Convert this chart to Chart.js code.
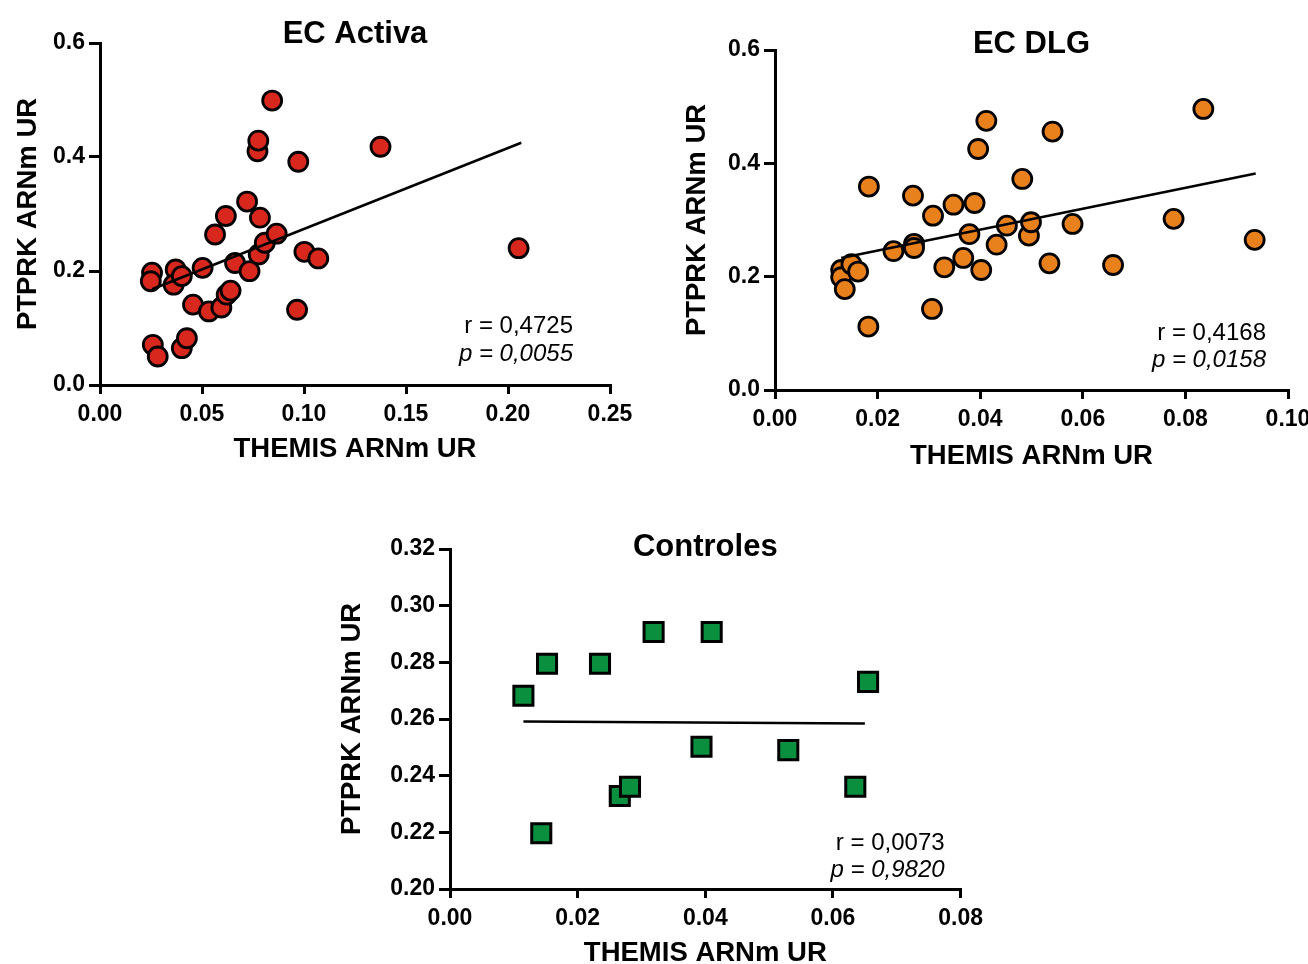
<!DOCTYPE html>
<html>
<head>
<meta charset="utf-8">
<script src="https://cdn.jsdelivr.net/npm/chart.js@4.4.0/dist/chart.umd.min.js"></script>
<style>
  html, body { margin: 0; padding: 0; background: #fff; width: 1308px; height: 964px; overflow: hidden; }
  canvas { position: absolute; }
</style>
</head>
<body>
<canvas id="c1" width="650" height="470" style="left:0px;top:0px"></canvas>
<canvas id="c2" width="680" height="480" style="left:660px;top:0px"></canvas>
<canvas id="c3" width="660" height="480" style="left:330px;top:500px"></canvas>
<script>
// EC Activa
const activaX = [0.0255, 0.0249, 0.0259, 0.0283, 0.0371, 0.0361, 0.0401, 0.0401, 0.0426, 0.0456, 0.0503,
  0.0534, 0.0595, 0.0621, 0.0640, 0.0564, 0.0617, 0.0662, 0.0721, 0.0733, 0.0784, 0.0772, 0.0776,
  0.0778, 0.0808, 0.0866, 0.0844, 0.0972, 0.0966, 0.1002, 0.1070, 0.1375, 0.2052];
const activaY = [0.197, 0.182, 0.0705, 0.050, 0.2026, 0.176, 0.191, 0.0646, 0.082, 0.141, 0.2055,
  0.129, 0.136, 0.1585, 0.1656, 0.264, 0.2965, 0.214, 0.3218, 0.1997, 0.2936, 0.410, 0.4287,
  0.229, 0.2496, 0.2654, 0.499, 0.3917, 0.132, 0.2337, 0.222, 0.418, 0.240];
const activaFitX = [0.0255, 0.2065];
const activaFitY = [0.168, 0.425];

// EC DLG
const dlgX = [0.0129, 0.0129, 0.0136, 0.0149, 0.0162, 0.0182, 0.0183, 0.0231, 0.0269, 0.0271, 0.0271,
  0.0306, 0.0308, 0.0330, 0.0348, 0.0367, 0.0379, 0.0389, 0.0396, 0.0402, 0.0412, 0.0432, 0.0452,
  0.0482, 0.0495, 0.0499, 0.0535, 0.0541, 0.0580, 0.0659, 0.0777, 0.0835, 0.0935];
const dlgY = [0.2118, 0.199, 0.178, 0.222, 0.209, 0.112, 0.359, 0.245, 0.343, 0.258, 0.2506,
  0.143, 0.3076, 0.2165, 0.327, 0.233, 0.275, 0.330, 0.4253, 0.2118, 0.475, 0.2565, 0.290,
  0.3724, 0.2724, 0.296, 0.2235, 0.456, 0.293, 0.2206, 0.302, 0.496, 0.265];
const dlgFitX = [0.0129, 0.0937];
const dlgFitY = [0.233, 0.382];

// Controles
const ctrlX = [0.0115, 0.0152, 0.0143, 0.0235, 0.0266, 0.0282, 0.0319, 0.0410, 0.0394, 0.0530, 0.0635, 0.0655];
const ctrlY = [0.2682, 0.2795, 0.2197, 0.2795, 0.2328, 0.2361, 0.2907, 0.2907, 0.2502, 0.2490, 0.2361, 0.2731];
const ctrlFitX = [0.0115, 0.0650];
const ctrlFitY = [0.2591, 0.2584];

// axes
const activaXTicks = [0, 0.05, 0.10, 0.15, 0.20, 0.25];
const activaXLabels = ['0.00', '0.05', '0.10', '0.15', '0.20', '0.25'];
const dlgXTicks = [0, 0.02, 0.04, 0.06, 0.08, 0.10];
const dlgXLabels = ['0.00', '0.02', '0.04', '0.06', '0.08', '0.10'];
const ecYTicks = [0, 0.2, 0.4, 0.6];
const ecYLabels = ['0.0', '0.2', '0.4', '0.6'];
const ctrlXTicks = [0, 0.02, 0.04, 0.06, 0.08];
const ctrlXLabels = ['0.00', '0.02', '0.04', '0.06', '0.08'];
const ctrlYTicks = [0.20, 0.22, 0.24, 0.26, 0.28, 0.30, 0.32];
const ctrlYLabels = ['0.20', '0.22', '0.24', '0.26', '0.28', '0.30', '0.32'];

const xTitle = 'THEMIS ARNm UR';
const yTitle = 'PTPRK ARNm UR';

const FONT = "'Liberation Sans', Arial, sans-serif";
Chart.defaults.font.family = FONT;
Chart.defaults.color = '#000';

// panel title + r / p text
const panelText = {
  id: 'panelText',
  afterDraw(chart, args, o) {
    const { ctx, chartArea: a } = chart;
    ctx.save();
    ctx.fillStyle = '#000';
    ctx.textAlign = 'center';
    ctx.textBaseline = 'alphabetic';
    ctx.font = 'bold 31px ' + FONT;
    ctx.fillText(o.title, (a.left + a.right) / 2, o.titleY);
    ctx.textAlign = 'right';
    ctx.textBaseline = 'middle';
    ctx.font = '24px ' + FONT;
    ctx.fillText(o.r, a.right + o.dx, a.bottom + o.rDy);
    ctx.font = 'italic 24px ' + FONT;
    ctx.fillText(o.p, a.right + o.dx, a.bottom + o.pDy);
    ctx.restore();
  }
};

function pts(xs, ys) {
  return xs.map((x, i) => ({ x: x, y: ys[i] }));
}

function makeChart(id, c) {
  const ctx = document.getElementById(id).getContext('2d');
  return new Chart(ctx, {
    type: 'scatter',
    data: {
      datasets: [
        {
          data: pts(c.fitX, c.fitY),
          showLine: true,
          borderColor: '#000',
          borderWidth: 2.5,
          pointRadius: 0,
          order: 0
        },
        {
          data: pts(c.x, c.y),
          pointStyle: c.style,
          pointRadius: c.radius,
          backgroundColor: c.color,
          borderColor: '#000',
          borderWidth: c.border,
          order: 1
        }
      ]
    },
    options: {
      responsive: false,
      animation: false,
      events: [],
      layout: { padding: c.padding },
      plugins: {
        legend: { display: false },
        tooltip: { enabled: false },
        panelText: c.text
      },
      scales: {
        x: {
          type: 'linear',
          min: c.xTicks[0],
          max: c.xTicks[c.xTicks.length - 1],
          afterBuildTicks: s => { s.ticks = c.xTicks.map(v => ({ value: v })); },
          afterFit: s => { s.height = c.xHeight; },
          ticks: {
            autoSkip: false, maxRotation: 0, padding: 7,
            font: { size: 23, weight: 'bold' },
            callback: (v, i) => c.xLabels[i]
          },
          grid: { drawOnChartArea: false, color: '#000', lineWidth: 3, tickLength: 9 },
          border: { color: '#000', width: 3 },
          title: {
            display: true, text: xTitle,
            font: { size: 27.5, weight: 'bold' },
            padding: { top: 0, bottom: c.xTitlePad }
          }
        },
        y: {
          type: 'linear',
          min: c.yTicks[0],
          max: c.yTicks[c.yTicks.length - 1],
          afterBuildTicks: s => { s.ticks = c.yTicks.map(v => ({ value: v })); },
          afterFit: s => { s.width = c.yWidth; },
          ticks: {
            autoSkip: false, padding: 4,
            font: { size: 23, weight: 'bold' },
            callback: (v, i) => c.yLabels[i]
          },
          grid: { drawOnChartArea: false, color: '#000', lineWidth: 3, tickLength: 11 },
          border: { color: '#000', width: 3 },
          title: {
            display: true, text: yTitle,
            font: { size: 27.5, weight: 'bold' },
            padding: { top: c.yTitlePad, bottom: 0 }
          }
        }
      }
    },
    plugins: [panelText]
  });
}

makeChart('c1', {
  x: activaX, y: activaY, fitX: activaFitX, fitY: activaFitY,
  xTicks: activaXTicks, xLabels: activaXLabels, yTicks: ecYTicks, yLabels: ecYLabels,
  style: 'circle', radius: 9.5, border: 2.8, color: '#d8281e',
  padding: { left: 0, top: 43, right: 40, bottom: 0 },
  xHeight: 85, yWidth: 100, xTitlePad: 4.5, yTitlePad: 11.5,
  text: { title: 'EC Activa', titleY: 43, r: 'r = 0,4725', p: 'p = 0,0055', dx: -37, rDy: -59, pDy: -31 }
});

makeChart('c2', {
  x: dlgX, y: dlgY, fitX: dlgFitX, fitY: dlgFitY,
  xTicks: dlgXTicks, xLabels: dlgXLabels, yTicks: ecYTicks, yLabels: ecYLabels,
  style: 'circle', radius: 9.5, border: 2.8, color: '#e8801c',
  padding: { left: 0, top: 50, right: 52, bottom: 0 },
  xHeight: 90, yWidth: 115, xTitlePad: 7.5, yTitlePad: 20.5,
  text: { title: 'EC DLG', titleY: 53, r: 'r = 0,4168', p: 'p = 0,0158', dx: -22, rDy: -57, pDy: -30 }
});

makeChart('c3', {
  x: ctrlX, y: ctrlY, fitX: ctrlFitX, fitY: ctrlFitY,
  xTicks: ctrlXTicks, xLabels: ctrlXLabels, yTicks: ctrlYTicks, yLabels: ctrlYLabels,
  style: 'rect', radius: 13.5, border: 3, color: '#0a8f3e',
  padding: { left: 0, top: 49, right: 28, bottom: 0 },
  xHeight: 91, yWidth: 120, xTitlePad: 10.5, yTitlePad: 5.5,
  text: { title: 'Controles', titleY: 56, r: 'r = 0,0073', p: 'p = 0,9820', dx: -16, rDy: -46, pDy: -19 }
});
</script>
</body>
</html>
